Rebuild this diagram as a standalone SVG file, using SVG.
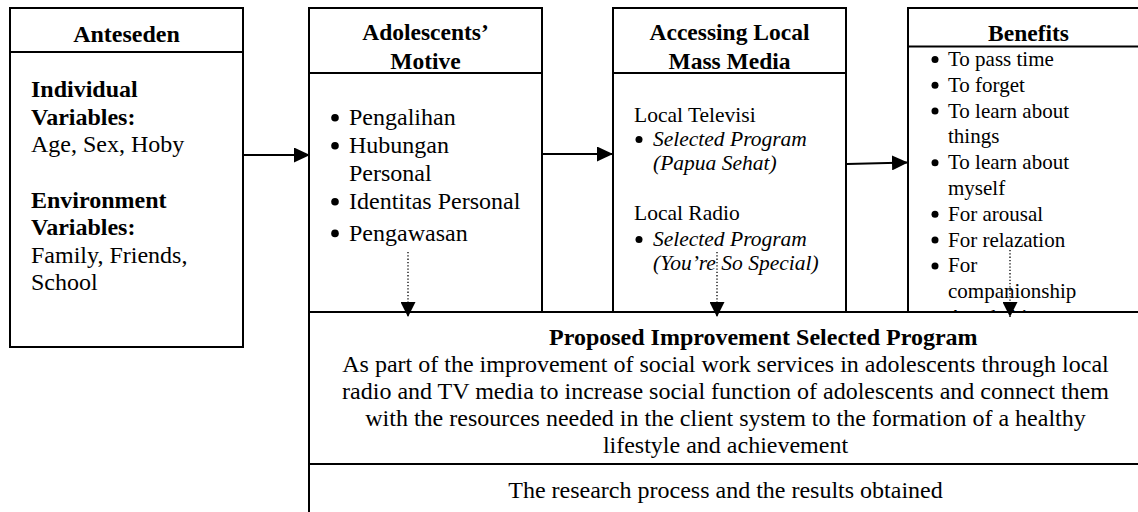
<svg xmlns="http://www.w3.org/2000/svg" width="1138" height="512" viewBox="0 0 1138 512">
<defs>
<style>
.box{fill:#fff;stroke:#000;stroke-width:2}
.ln{stroke:#000;stroke-width:2;fill:none}
text{font-family:"Liberation Serif","Times New Roman",serif;fill:#000}
.h{font-weight:bold;text-anchor:middle}
.b{font-weight:bold}
.t24{font-size:24px}
.t21{font-size:21.5px}
.t21b{font-size:21px}
.it{font-style:italic}
.c{text-anchor:middle}
.conn{stroke:#000;stroke-width:2;fill:none}
.dot{stroke:#000;stroke-width:1.3;stroke-dasharray:1.3 2;fill:none}
</style>
<marker id="ah" viewBox="0 0 16 15" refX="16" refY="7.5" markerWidth="16" markerHeight="15" markerUnits="userSpaceOnUse" orient="auto">
<path d="M0,0 L16,7.5 L0,15 Z" fill="#000"/>
</marker>
<marker id="ahd" viewBox="0 0 15 15" refX="15" refY="7.5" markerWidth="15" markerHeight="15" markerUnits="userSpaceOnUse" orient="auto">
<path d="M0,0 L15,7.5 L0,15 Z" fill="#000"/>
</marker>
</defs>
<rect width="1138" height="512" fill="#fff"/>

<g id="node-anteseden">
<rect class="box" x="10" y="8" width="233" height="339"/>
<line class="ln" x1="10" y1="52" x2="243" y2="52"/>
<text class="h t24" x="126.5" y="41.5">Anteseden</text>
<text class="t24 b" x="31" y="97">Individual</text>
<text class="t24 b" x="31" y="124.5">Variables:</text>
<text class="t24" x="31" y="152">Age, Sex, Hoby</text>
<text class="t24 b" x="31" y="207.5">Environment</text>
<text class="t24 b" x="31" y="235">Variables:</text>
<text class="t24" x="31" y="262.5">Family, Friends,</text>
<text class="t24" x="31" y="289.5">School</text>
</g>

<g id="node-motive">
<rect class="box" x="309" y="8" width="233" height="304"/>
<line class="ln" x1="309" y1="73" x2="542" y2="73"/>
<text class="h t24" x="425.5" y="40" style="font-size:23.5px">Adolescents’</text>
<text class="h t24" x="425.5" y="68.5" style="font-size:23.5px">Motive</text>
<circle cx="335" cy="117.7" r="3.8"/>
<circle cx="335" cy="145.7" r="3.8"/>
<circle cx="335" cy="201.7" r="3.8"/>
<circle cx="335" cy="233.4" r="3.8"/>
<text class="t24" x="349" y="125">Pengalihan</text>
<text class="t24" x="349" y="153">Hubungan</text>
<text class="t24" x="349" y="181">Personal</text>
<text class="t24" x="349" y="209">Identitas Personal</text>
<text class="t24" x="349" y="240.7">Pengawasan</text>
</g>

<g id="node-media">
<rect class="box" x="613" y="8" width="233" height="304"/>
<line class="ln" x1="613" y1="73" x2="846" y2="73"/>
<text class="h t24" x="729.5" y="40" style="font-size:23.5px">Accessing Local</text>
<text class="h t24" x="729.5" y="68.5" style="font-size:23.5px">Mass Media</text>
<text class="t21" x="634" y="121.7">Local Televisi</text>
<circle cx="639" cy="139.5" r="3.5"/>
<text class="t21 it" x="653" y="146">Selected Program</text>
<text class="t21 it" x="653" y="170">(Papua Sehat)</text>
<text class="t21" x="634" y="220">Local Radio</text>
<circle cx="639" cy="239.5" r="3.5"/>
<text class="t21 it" x="653" y="246">Selected Program</text>
<text class="t21 it" x="653" y="270">(You’re So Special)</text>
</g>

<g id="node-benefits">
<rect class="box" x="908" y="8" width="241" height="340"/>
<line class="ln" x1="908" y1="46.5" x2="1149" y2="46.5"/>
<text class="h t24" x="1028.5" y="41" style="font-size:23.5px">Benefits</text>
<circle cx="935" cy="59.5" r="3.5"/>
<circle cx="935" cy="85.3" r="3.5"/>
<circle cx="935" cy="111.1" r="3.5"/>
<circle cx="935" cy="162.7" r="3.5"/>
<circle cx="935" cy="214.3" r="3.5"/>
<circle cx="935" cy="240.1" r="3.5"/>
<circle cx="935" cy="265.9" r="3.5"/>
<circle cx="935" cy="317.5" r="3.5"/>
<text class="t21b" x="948" y="66">To pass time</text>
<text class="t21b" x="948" y="91.8">To forget</text>
<text class="t21b" x="948" y="117.6">To learn about</text>
<text class="t21b" x="948" y="143.4">things</text>
<text class="t21b" x="948" y="169.2">To learn about</text>
<text class="t21b" x="948" y="195">myself</text>
<text class="t21b" x="948" y="220.8">For arousal</text>
<text class="t21b" x="948" y="246.6">For relazation</text>
<text class="t21b" x="948" y="272.4">For</text>
<text class="t21b" x="948" y="298.2">companionship</text>
<text class="t21b" x="948" y="324">As a habit</text>
</g>

<g id="node-proposed">
<rect class="box" x="309" y="312" width="840" height="210"/>
<line class="ln" x1="309" y1="464" x2="1149" y2="464"/>
<text class="t24 b" x="549" y="345">Proposed Improvement Selected Program</text>
<text class="t24 c" x="725.5" y="372">As part of the improvement of social work services in adolescents through local</text>
<text class="t24 c" x="725.5" y="399">radio and TV media to increase social function of adolescents and connect them</text>
<text class="t24 c" x="725.5" y="426">with the resources needed in the client system to the formation of a healthy</text>
<text class="t24 c" x="725.5" y="453">lifestyle and achievement</text>
<text class="t24 c" x="725.5" y="498">The research process and the results obtained</text>
</g>

<g id="connectors">
<line class="conn" x1="243" y1="155" x2="310" y2="155" marker-end="url(#ah)"/>
<line class="conn" x1="542" y1="154" x2="613" y2="154" marker-end="url(#ah)"/>
<line class="conn" x1="847" y1="164" x2="908" y2="162.5" marker-end="url(#ah)"/>
<line class="dot" x1="408" y1="252" x2="408" y2="317" marker-end="url(#ahd)"/>
<line class="dot" x1="717" y1="252" x2="717" y2="317" marker-end="url(#ahd)"/>
<line class="dot" x1="1010" y1="250" x2="1010" y2="317" marker-end="url(#ahd)"/>
</g>
</svg>
